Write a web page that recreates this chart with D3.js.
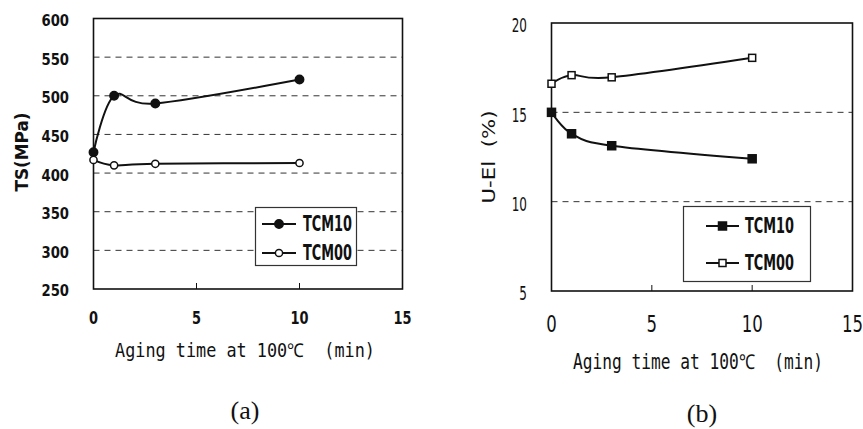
<!DOCTYPE html>
<html>
<head>
<meta charset="utf-8">
<script src="https://cdn.jsdelivr.net/npm/d3@7/dist/d3.min.js"></script>
<style>
  html, body { margin: 0; padding: 0; background: #fff; }
  svg { display: block; }
  svg text { white-space: pre; }
</style>
</head>
<body>
<svg id="chart" width="863" height="429"></svg>
<script>
// Aging time (min) shared by both panels
const timeMin = [0, 1, 3, 10];

// Panel (a): tensile strength, MPa
const tsTCM10 = [427, 500, 490, 521];
const tsTCM00 = [417, 410, 412, 413];

// Panel (b): uniform elongation, %
const ueTCM10 = [15.0, 13.8, 13.13, 12.4];
const ueTCM00 = [16.6, 17.08, 16.96, 18.05];

// Axis ticks
const xTicks = [0, 5, 10, 15];
const xInnerTicks = [5, 10];
const tsTicks = [250, 300, 350, 400, 450, 500, 550, 600];
const tsGrid = [300, 350, 400, 450, 500, 550];
const ueTicks = [5, 10, 15, 20];
const ueGrid = [10, 15];

const seriesNames = ["TCM10", "TCM00"];
const xTitle = "Aging time at 100\u2103  (min)";

const svg = d3.select("#chart");
const INK = "#111";

// Text helper: optional rotation, horizontal squeeze (sx) or fit-to-width (width)
function txt(g, x, y, s, o) {
  const t = g.append("text")
    .attr("font-family", o.family || "DejaVu Sans")
    .attr("font-size", o.size)
    .attr("font-weight", o.weight || "normal")
    .attr("text-anchor", o.anchor || "middle")
    .attr("dy", o.dy || "0.36em")
    .attr("fill", INK)
    .text(s);
  let sx = o.sx || 1;
  if (o.width) sx = o.width / t.node().getComputedTextLength();
  let tr = `translate(${x},${y})`;
  if (o.rot) tr += ` rotate(${o.rot})`;
  if (sx !== 1) tr += ` scale(${sx},1)`;
  t.attr("transform", tr);
  return t;
}

function marker(g, shape, filled, cx, cy) {
  if (shape === "circle") {
    g.append("circle").attr("cx", cx).attr("cy", cy)
      .attr("r", filled ? 4.2 : 3.6)
      .attr("fill", filled ? INK : "#fff")
      .attr("stroke", INK).attr("stroke-width", 1.5);
  } else {
    const s = filled ? 8 : 7;
    g.append("rect").attr("x", cx - s / 2).attr("y", cy - s / 2)
      .attr("width", s).attr("height", s)
      .attr("fill", filled ? INK : "#fff")
      .attr("stroke", INK).attr("stroke-width", 1.5);
  }
}

function panel(cfg) {
  const g = svg.append("g");
  const x = cfg.x, y = cfg.y;
  const [x0, x1] = x.range();
  const [y0, y1] = y.range(); // y0 bottom, y1 top

  // dashed gridlines
  g.selectAll(null).data(cfg.grid).join("line")
    .attr("x1", x0).attr("x2", x1)
    .attr("y1", d => y(d)).attr("y2", d => y(d))
    .attr("stroke", "#333").attr("stroke-width", 1)
    .attr("stroke-dasharray", "6,5");

  // inward ticks on the bottom axis
  g.selectAll(null).data(xInnerTicks).join("line")
    .attr("x1", d => x(d)).attr("x2", d => x(d))
    .attr("y1", y0).attr("y2", y0 - 6)
    .attr("stroke", INK).attr("stroke-width", 1);

  // plot frame
  g.append("rect")
    .attr("x", x0).attr("y", y1)
    .attr("width", x1 - x0).attr("height", y0 - y1)
    .attr("fill", "none").attr("stroke", INK).attr("stroke-width", 1.6);

  // smoothed series lines and markers
  const line = d3.line()
    .x(d => x(d[0])).y(d => y(d[1]))
    .curve(d3.curveCardinal.tension(0));
  cfg.series.forEach(s => {
    const pts = timeMin.map((t, i) => [t, s.values[i]]);
    g.append("path").attr("d", line(pts))
      .attr("fill", "none").attr("stroke", INK).attr("stroke-width", 2);
    pts.forEach(p => marker(g, cfg.shape, s.filled, x(p[0]), y(p[1])));
  });

  // tick labels
  cfg.yTicks.forEach(v => txt(g, cfg.yLabelX, y(v) + cfg.yLabelDy, String(v), cfg.yTickFont));
  xTicks.forEach(v => txt(g, x(v), cfg.xLabelY, String(v), cfg.xTickFont));

  // axis titles
  txt(g, cfg.xTitle.cx, cfg.xTitle.cy, xTitle, cfg.xTitle.font);
  txt(g, cfg.yTitle.cx, cfg.yTitle.cy, cfg.yTitle.text, cfg.yTitle.font);

  // panel caption
  txt(g, cfg.caption.cx, cfg.caption.cy, cfg.caption.text,
      { family: "Liberation Serif", size: 26 });

  // legend
  const L = cfg.legend;
  g.append("rect").attr("x", L.x).attr("y", L.y).attr("width", L.w).attr("height", L.h)
    .attr("fill", "#fff").attr("stroke", "#333").attr("stroke-width", 1.2);
  cfg.series.forEach((s, i) => {
    const ry = L.rows[i];
    g.append("line").attr("x1", L.lx0).attr("x2", L.lx1).attr("y1", ry).attr("y2", ry)
      .attr("stroke", INK).attr("stroke-width", 2);
    marker(g, cfg.shape, s.filled, (L.lx0 + L.lx1) / 2, ry);
    txt(g, L.tx, ry, s.name, { size: 20.5, weight: "bold", anchor: "start", width: 49 });
  });
}

// Panel (a)
panel({
  x: d3.scaleLinear([0, 15], [93.5, 402.5]),
  y: d3.scaleLinear([250, 600], [289, 18.5]),
  grid: tsGrid,
  yTicks: tsTicks,
  shape: "circle",
  series: [
    { name: seriesNames[0], values: tsTCM10, filled: true },
    { name: seriesNames[1], values: tsTCM00, filled: false }
  ],
  yLabelX: 69, yLabelDy: 1.5,
  yTickFont: { size: 16.5, weight: "bold", anchor: "end", sx: 0.8 },
  xLabelY: 318,
  xTickFont: { size: 18, weight: "bold", sx: 0.72 },
  xTitle: { cx: 245, cy: 350, font: { family: "DejaVu Sans Mono", size: 19, width: 260 } },
  yTitle: { cx: 22, cy: 152, text: "TS(MPa)",
            font: { size: 18, weight: "bold", rot: -90, width: 79 } },
  caption: { cx: 245, cy: 410, text: "(a)" },
  legend: { x: 255.5, y: 207.5, w: 101, h: 58, rows: [224, 253],
            lx0: 262, lx1: 296, tx: 303 }
});

// Panel (b)
panel({
  x: d3.scaleLinear([0, 15], [551.5, 852.5]),
  y: d3.scaleLinear([5, 20], [291, 23]),
  grid: ueGrid,
  yTicks: ueTicks,
  shape: "square",
  series: [
    { name: seriesNames[0], values: ueTCM10, filled: true },
    { name: seriesNames[1], values: ueTCM00, filled: false }
  ],
  yLabelX: 527, yLabelDy: 2,
  yTickFont: { size: 20, anchor: "end", sx: 0.6 },
  xLabelY: 324,
  xTickFont: { size: 23, sx: 0.72 },
  xTitle: { cx: 698, cy: 362, font: { family: "DejaVu Sans Mono", size: 20.5, width: 250 } },
  yTitle: { cx: 489, cy: 157, text: "U-El  (%)",
            font: { size: 18, rot: -90, width: 93 } },
  caption: { cx: 702, cy: 413, text: "(b)" },
  legend: { x: 683.5, y: 206.5, w: 127, h: 75, rows: [226, 263],
            lx0: 706, lx1: 739, tx: 745 }
});
</script>
</body>
</html>
